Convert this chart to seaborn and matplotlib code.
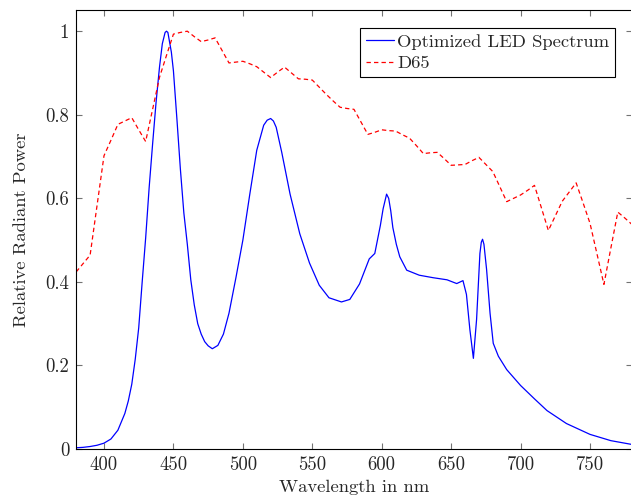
import numpy as np
import pandas as pd
import seaborn as sns
from matplotlib import pyplot as plt
from matplotlib.ticker import FixedLocator, FixedFormatter

# D65 relative spectral power, 5 nm steps (normalised to its max)
d65_nm = list(range(380, 781, 5))
d65_val = [0.424, 0.444, 0.464, 0.583, 0.702, 0.739, 0.777, 0.785, 0.793, 0.764,
           0.736, 0.813, 0.890, 0.942, 0.993, 0.997, 1.000, 0.987, 0.975, 0.979,
           0.984, 0.954, 0.924, 0.926, 0.928, 0.922, 0.915, 0.902, 0.889, 0.902,
           0.914, 0.900, 0.886, 0.885, 0.883, 0.866, 0.849, 0.833, 0.818, 0.815,
           0.813, 0.783, 0.753, 0.758, 0.764, 0.762, 0.761, 0.752, 0.744, 0.726,
           0.707, 0.709, 0.710, 0.695, 0.679, 0.680, 0.681, 0.690, 0.698, 0.681,
           0.664, 0.628, 0.592, 0.600, 0.608, 0.619, 0.631, 0.577, 0.523, 0.558,
           0.593, 0.615, 0.637, 0.589, 0.540, 0.467, 0.394, 0.481, 0.567, 0.553,
           0.538]

# optimized LED spectrum
led_nm = [380, 385, 390, 395, 400, 405, 410, 415, 417.5, 420, 422.5, 425, 427.5,
          430, 432.5, 435, 437.5, 440, 442, 444, 445, 446, 448.5, 450, 452.5,
          455, 457.5, 460, 462.5, 465, 467.5, 470, 472.5, 475, 478, 482, 486,
          490, 495, 500, 505, 510, 515, 517.5, 520, 522, 524, 528, 534, 541, 548,
          555, 562, 571, 577, 584, 591, 595, 599, 601, 603.5, 605, 606.5, 608,
          610.5, 613, 618, 627, 637, 647, 654, 658.5, 661, 663.5, 666, 668.3,
          670.7, 671.7, 672.6, 673.6, 675.5, 678, 680.3, 684, 690, 700, 710, 719,
          733, 750, 765, 780]
led_val = [0.003, 0.004, 0.006, 0.009, 0.014, 0.024, 0.045, 0.085, 0.115, 0.155,
           0.215, 0.29, 0.40, 0.505, 0.625, 0.73, 0.83, 0.915, 0.97, 0.997, 1.0,
           0.997, 0.95, 0.905, 0.79, 0.67, 0.565, 0.49, 0.405, 0.345, 0.30,
           0.275, 0.257, 0.247, 0.240, 0.248, 0.275, 0.325, 0.41, 0.50, 0.61,
           0.715, 0.775, 0.787, 0.791, 0.785, 0.77, 0.71, 0.61, 0.515, 0.445,
           0.392, 0.362, 0.352, 0.358, 0.395, 0.455, 0.468, 0.535, 0.575, 0.61,
           0.60, 0.57, 0.53, 0.49, 0.46, 0.428, 0.416, 0.410, 0.405, 0.396,
           0.403, 0.37, 0.285, 0.217, 0.31, 0.468, 0.495, 0.502, 0.49, 0.43,
           0.325, 0.253, 0.222, 0.19, 0.152, 0.12, 0.092, 0.061, 0.035, 0.02,
           0.011]

x_ticks = [400, 450, 500, 550, 600, 650, 700, 750]
y_ticks = [0, 0.2, 0.4, 0.6, 0.8, 1]
y_labels = ['0', '0.2', '0.4', '0.6', '0.8', '1']

sns.set_theme(style="ticks")
plt.rcParams['font.family'] = ['cmr10', 'DejaVu Serif']
plt.rcParams['axes.formatter.use_mathtext'] = True
plt.rcParams['font.size'] = 13.4

fig = plt.figure(figsize=(6.31, 4.95), dpi=100)
ax = fig.add_axes([0.1208, 0.0929, 0.8803, 0.8863])

led = pd.DataFrame({'nm': led_nm, 'val': led_val})
d65 = pd.DataFrame({'nm': d65_nm, 'val': d65_val})

sns.lineplot(x='nm', y='val', data=led, ax=ax, color='blue', lw=0.9,
             label='Optimized LED Spectrum')
sns.lineplot(x='nm', y='val', data=d65, ax=ax, color='red', lw=0.9,
             label='D65')
ax.lines[1].set_dashes([3.5, 2.5])

ax.set_xlim(380, 780)
ax.set_ylim(0, 1.05)
ax.xaxis.set_major_locator(FixedLocator(x_ticks))
ax.xaxis.set_major_formatter(FixedFormatter([str(v) for v in x_ticks]))
ax.yaxis.set_major_locator(FixedLocator(y_ticks))
ax.yaxis.set_major_formatter(FixedFormatter(y_labels))
ax.tick_params(direction='in', length=4, width=0.8, color='0.45',
               top=True, right=True, labelsize=13.5, pad=5)
for s in ax.spines.values():
    s.set_color('black')
    s.set_linewidth(0.8)

ax.set_xlabel('Wavelength in nm', fontsize=13.4, labelpad=4)
ax.set_ylabel('Relative Radiant Power', fontsize=13.4, labelpad=12)

leg = ax.legend(loc='upper right', bbox_to_anchor=(0.970, 0.959),
                borderaxespad=0, fancybox=False, framealpha=1,
                edgecolor='black', handlelength=1.5, handletextpad=0.2,
                borderpad=0.3, labelspacing=0.28, fontsize=13.4)
leg.get_frame().set_linewidth(0.8)
leg.get_lines()[1].set_dashes([3.5, 2.5])

plt.savefig('out.png', dpi=100)
